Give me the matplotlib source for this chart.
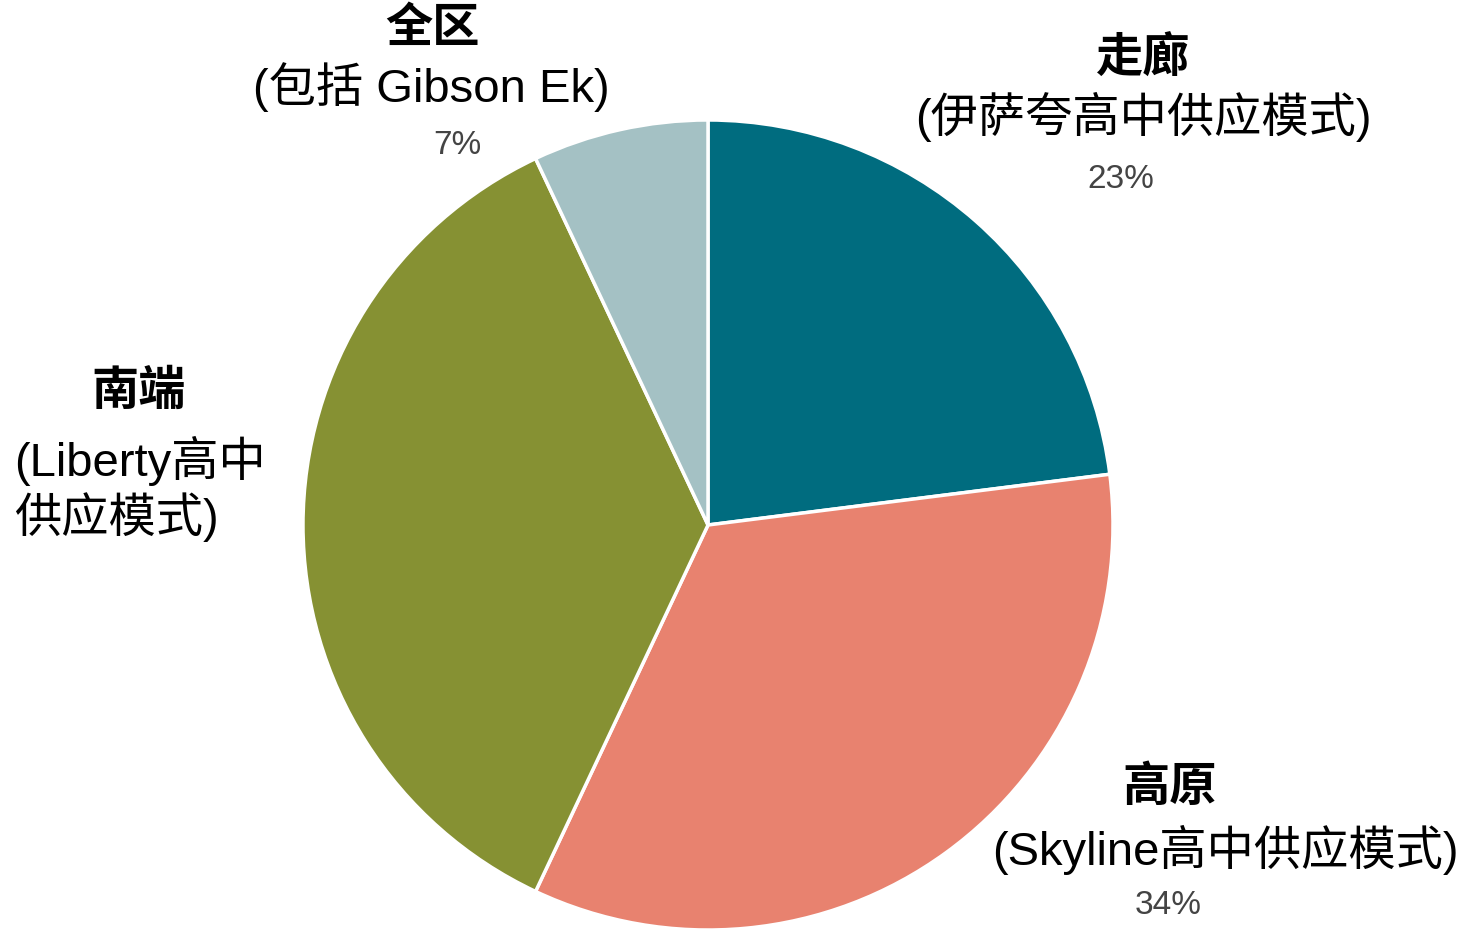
import matplotlib
matplotlib.use('Agg')
import matplotlib.pyplot as plt

fonts = ['Liberation Sans', 'Noto Sans CJK SC', 'DejaVu Sans']
plt.rcParams['font.family'] = fonts

# data (clockwise from top)
names = ['走廊', '高原', '南端', '全区']
subs = ['(伊萨夸高中供应模式)', '(Skyline高中供应模式)', '(Liberty高中\n供应模式)', '(包括 Gibson Ek)']
values = [23, 34, 36, 7]
show_pct = [True, True, False, True]
colors = ['#006C7F', '#E8826F', '#869133', '#A4C1C4']

W, H = 1468, 931
fig = plt.figure(figsize=(W / 100, H / 100), dpi=100)
ax = fig.add_axes([0, 0, 1, 1])

ax.pie(values, colors=colors, startangle=90, counterclock=False,
       center=(708, H - 525), radius=405, frame=True,
       wedgeprops=dict(edgecolor='white', linewidth=2.5))
ax.set_xlim(0, W)
ax.set_ylim(0, H)
ax.axis('off')

# label positions in pixels (x, y from top)
title_pos = [(1143, 60), (1170, 789), (139, 393), (432, 30)]
sub_pos = [(1143, 117), (1225, 850), (14, 489), (431, 87)]
sub_ha = ['center', 'center', 'left', 'center']
pct_pos = [(1121, 179), (1168, 906), None, (457, 146)]

for i in range(len(names)):
    x, y = title_pos[i]
    ax.text(x, H - y, names[i], ha='center', va='center', fontsize=34,
            fontweight='bold', color='black')
    x, y = sub_pos[i]
    ax.text(x, H - y, subs[i], ha=sub_ha[i], va='center', fontsize=34,
            color='black', linespacing=1.15)
    if show_pct[i]:
        x, y = pct_pos[i]
        ax.text(x, H - y, f'{values[i]}%', ha='center', va='center',
                fontsize=24, color='#444444')

fig.savefig('out.png', dpi=100)
